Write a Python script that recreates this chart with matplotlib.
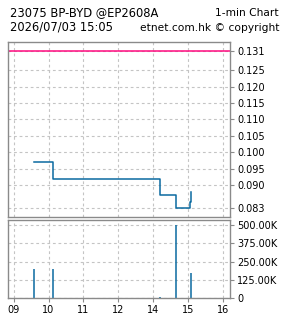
import matplotlib
matplotlib.use("Agg")
import matplotlib.pyplot as plt
from matplotlib.ticker import FixedLocator, FuncFormatter

# ---- data ----
title_left = "23075 BP-BYD @EP2608A"
title_right = "1-min Chart"
subtitle_left = "2026/07/03 15:05"
subtitle_right = "etnet.com.hk \u00a9 copyright"

price_times = ["09:35", "10:07", "10:08", "14:11", "14:38", "15:03", "15:05"]
prices = [0.097, 0.095, 0.092, 0.087, 0.083, 0.085, 0.088]
prev_close = 0.131

vol_times = ["09:35", "10:08", "14:11", "14:38", "15:05"]
volumes = [200000, 200000, 5000, 500000, 170000]

price_ticks = [0.131, 0.125, 0.120, 0.115, 0.110, 0.105, 0.100, 0.095, 0.090, 0.083]
vol_ticks = [0, 125000, 250000, 375000, 500000]
hour_labels = ["09", "10", "11", "12", "14", "15", "16"]


def pos(t):
    h, m = map(int, t.split(":"))
    v = h + m / 60.0
    # lunch break (12:00-13:00) removed from the axis
    return v - 9 if v <= 12 else v - 10


W, H = 285, 318
fig = plt.figure(figsize=(W / 100, H / 100), dpi=100)
fig.patch.set_facecolor("white")

FONT = "DejaVu Sans"
frame_col = "#8a8a8a"
grid_col = "#c4c4c4"
line_col = "#0a6aa0"


def box(l, t, r, b):
    return [l / W, 1 - b / H, (r - l) / W, (b - t) / H]


ax1 = fig.add_axes(box(8.3, 42, 230, 217))
ax2 = fig.add_axes(box(8.3, 220, 230, 298))

xpos = list(range(len(hour_labels)))
for ax in (ax1, ax2):
    ax.set_xlim(-0.15, 6.19)
    for s in ax.spines.values():
        s.set_color(frame_col)
        s.set_linewidth(1.0)
    ax.yaxis.tick_right()
    ax.tick_params(axis="both", colors=frame_col, labelcolor="black",
                   labelsize=7, length=3, width=0.8, pad=2)
    ax.xaxis.set_major_locator(FixedLocator(xpos))
    ax.grid(True, color=grid_col, linestyle=(0, (2.5, 2.5)), linewidth=0.8)
    ax.set_axisbelow(True)

# price panel
px = [pos(t) for t in price_times]
ax1.step(px, prices, where="post", color=line_col, linewidth=1.1)
ax1.axhline(prev_close, color="#ff0a7f", linewidth=1.1)
ax1.set_ylim(0.0803, 0.1336)
ax1.yaxis.set_major_locator(FixedLocator(price_ticks))
ax1.yaxis.set_major_formatter(FuncFormatter(lambda v, p: f"{v:.3f}"))
ax1.tick_params(axis="x", bottom=False, labelbottom=False)
for lab in ax1.get_yticklabels():
    lab.set_family(FONT)

# volume panel
vx = [pos(t) for t in vol_times]
ax2.vlines(vx, 0, volumes, color=line_col, linewidth=1.1)
ax2.set_ylim(0, 536000)
ax2.yaxis.set_major_locator(FixedLocator(vol_ticks))
ax2.yaxis.set_major_formatter(
    FuncFormatter(lambda v, p: "0" if v == 0 else f"{v/1000:.2f}K"))
ax2.set_xticklabels(hour_labels)
for lab in ax2.get_yticklabels() + ax2.get_xticklabels():
    lab.set_family(FONT)

# header texts
fig.text(10 / W, 1 - 16 / H, title_left, fontsize=8.3, family=FONT, ha="left", va="baseline")
fig.text(279 / W, 1 - 16 / H, title_right, fontsize=7.7, family=FONT, ha="right", va="baseline")
fig.text(10 / W, 1 - 31 / H, subtitle_left, fontsize=8.3, family=FONT, ha="left", va="baseline")
fig.text(279 / W, 1 - 31 / H, subtitle_right, fontsize=7.7, family=FONT, ha="right", va="baseline")

fig.savefig("out.png", dpi=100, facecolor="white")
